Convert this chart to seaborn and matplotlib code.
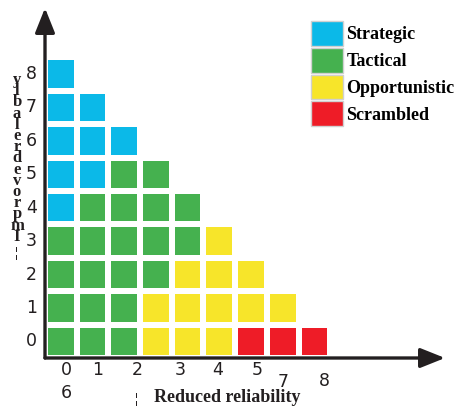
import numpy as np
import pandas as pd
import matplotlib
matplotlib.use("Agg")
import matplotlib.pyplot as plt
from matplotlib.colors import ListedColormap
from matplotlib.patches import Patch
import seaborn as sns

# Categories and their colours
categories = ["Strategic", "Tactical", "Opportunistic", "Scrambled"]
colors = ["#0BB9E8", "#45B14F", "#F7E52A", "#EE1C27"]

# Cells per level (row 0 at the bottom), one letter per column
# S = Strategic, T = Tactical, O = Opportunistic, X = Scrambled
levels = [0, 1, 2, 3, 4, 5, 6, 7, 8]
level_cells = [
    "TTTOOOXXX",
    "TTTOOOOO",
    "TTTTOOO",
    "TTTTTO",
    "STTTT",
    "SSTT",
    "SSS",
    "SS",
    "S",
]

# Tick labels as they appear (garbled) in the picture
x_tick_labels = ["0", "1", "2", "3", "4", "5"]
x_tick_pos = [0.66, 1.67, 2.90, 4.26, 5.46, 6.69]
x_extra_labels = ["7", "8", "6"]
x_extra_pos = [7.51, 8.80, 0.66]
x_extra_drop = [8.5, 8, 16.5]  # points below the first label row
y_tick_labels = [str(v) for v in levels]
y_label_chars = list("ylbalerdevorpmI")
x_label = "Reduced reliability"

code = {"S": 0, "T": 1, "O": 2, "X": 3}
ncols = 9
grid = np.full((len(levels), ncols), np.nan)
for r, cells in enumerate(level_cells):
    for c, ch in enumerate(cells):
        grid[r, c] = code[ch]
df = pd.DataFrame(grid, index=levels)

fig = plt.figure(figsize=(4.56, 4.12), dpi=100)
ax = fig.add_axes([45 / 456, 54 / 412, 400 / 456, 350 / 412])

sns.heatmap(df, ax=ax, cmap=ListedColormap(colors), vmin=-0.5, vmax=3.5,
            mask=df.isna(), cbar=False, linewidths=3, linecolor="white")

ax.set_xlim(0, 400 / 31.7)
ax.set_ylim(0, 350 / 33.4)
for s in ax.spines.values():
    s.set_visible(False)

tick_font = dict(fontsize=12.5, color="#231F20")
ax.set_yticks(np.arange(len(levels)) + 0.5)
ax.set_yticklabels(y_tick_labels, rotation=0, **tick_font)
ax.set_xticks(x_tick_pos)
ax.set_xticklabels(x_tick_labels, rotation=0, **tick_font)
ax.tick_params(axis="both", length=0)
ax.tick_params(axis="y", pad=6)
ax.tick_params(axis="x", pad=2)
ax.set_xlabel("")
ax.set_ylabel("")

for lab, xp, drop in zip(x_extra_labels, x_extra_pos, x_extra_drop):
    ax.annotate(lab, xy=(xp, 0), xycoords=("data", "axes fraction"),
                xytext=(0, -drop - 2), textcoords="offset points",
                ha="center", va="top", **tick_font)

# axis arrows
arrow = dict(arrowstyle="-|>,head_length=0.75,head_width=0.3", lw=2.4,
             color="#231F20", mutation_scale=20, shrinkA=0, shrinkB=0)
ax.annotate("", xy=(0, 1), xytext=(0, 0), xycoords="axes fraction",
            arrowprops=arrow, zorder=5, annotation_clip=False)
ax.annotate("", xy=(1, 0), xytext=(0, 0), xycoords="axes fraction",
            arrowprops=arrow, zorder=5, annotation_clip=False)

serif = dict(family="Liberation Serif", fontweight="bold", color="#231F20")

# stacked y label letters
fig.text(17 / 456, 1 - 72 / 412, "\n".join(y_label_chars), ha="center",
         va="top", fontsize=12, linespacing=0.6, **serif)
fig.text(17 / 456, 1 - 254 / 412, "¦", ha="center", va="center",
         fontsize=10, **serif)

# x label
fig.text(137 / 456, 1 - 400 / 412, "¦", ha="center", va="center",
         fontsize=10, **serif)
fig.text(227 / 456, 1 - 398 / 412, x_label, ha="center", va="center",
         fontsize=13, **serif)

# legend
handles = [Patch(facecolor=c, edgecolor="#d0d0d0", label=l)
           for c, l in zip(colors, categories)]
leg = fig.legend(handles=handles, loc="upper left",
                 bbox_to_anchor=(311 / 456, 1 - 21 / 412), frameon=False,
                 handlelength=1.75, handleheight=1.75, labelspacing=0.1,
                 handletextpad=0.2, borderpad=0, borderaxespad=0,
                 prop=dict(family="Liberation Serif", weight="bold", size=13))

fig.savefig("out.png", dpi=100)
